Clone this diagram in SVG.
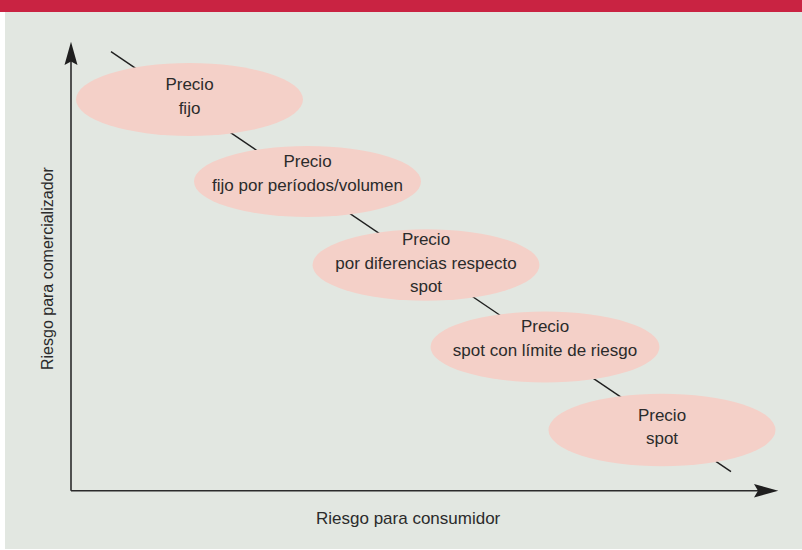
<svg xmlns="http://www.w3.org/2000/svg" width="802" height="550" viewBox="0 0 802 550">
<style>
.node ellipse{fill:#f4d0c8;stroke:none}
text{font-family:"Liberation Sans",Arial,sans-serif;font-size:17px;fill:#2b2b2b}
.node text{text-anchor:middle}
.axis{stroke:#2b2b2b;stroke-width:1.6;fill:none}
.head{fill:#1f1f1f;stroke:none}
</style>
<rect x="0" y="0" width="802" height="550" fill="#ffffff"/>
<rect x="5" y="12" width="797" height="537" fill="#e2e7e1"/>
<rect x="0" y="0" width="802" height="12" fill="#c92342"/>
<g id="connectors">
<line x1="111" y1="51.7" x2="731" y2="471.7" stroke="#1f1f1f" stroke-width="1.4"/>
<line class="axis" x1="71" y1="490.7" x2="71" y2="58"/>
<line class="axis" x1="71" y1="490.7" x2="762" y2="490.7"/>
<path class="head" d="M71,41.7 L77.5,65 L71,61.5 L64.5,65 Z"/>
<path class="head" d="M778.3,490.7 L754,484 L758,490.7 L754,497.4 Z"/>
</g>
<g id="node1" class="node">
<ellipse cx="189.5" cy="99.5" rx="113.5" ry="36.5"/>
<text x="189.5" y="90">Precio</text>
<text x="189.5" y="114">fijo</text>
</g>
<g id="node2" class="node">
<ellipse cx="307.5" cy="181.5" rx="113.5" ry="35.5"/>
<text x="307.5" y="166.7">Precio</text>
<text x="307.5" y="191">fijo por períodos/volumen</text>
</g>
<g id="node3" class="node">
<ellipse cx="426" cy="265" rx="113.5" ry="35.7"/>
<text x="426" y="245">Precio</text>
<text x="426" y="269.3">por diferencias respecto</text>
<text x="426" y="291.7">spot</text>
</g>
<g id="node4" class="node">
<ellipse cx="545" cy="347" rx="114.5" ry="35.5"/>
<text x="545" y="332.3">Precio</text>
<text x="545" y="355.7">spot con límite de riesgo</text>
</g>
<g id="node5" class="node">
<ellipse cx="662" cy="430" rx="113.5" ry="36.3"/>
<text x="662" y="420.7">Precio</text>
<text x="662" y="444">spot</text>
</g>
<g id="labels">
<text x="316" y="524">Riesgo para consumidor</text>
<text transform="translate(52.7,370) rotate(-90)" style="font-size:16px">Riesgo para comercializador</text>
</g>
</svg>
